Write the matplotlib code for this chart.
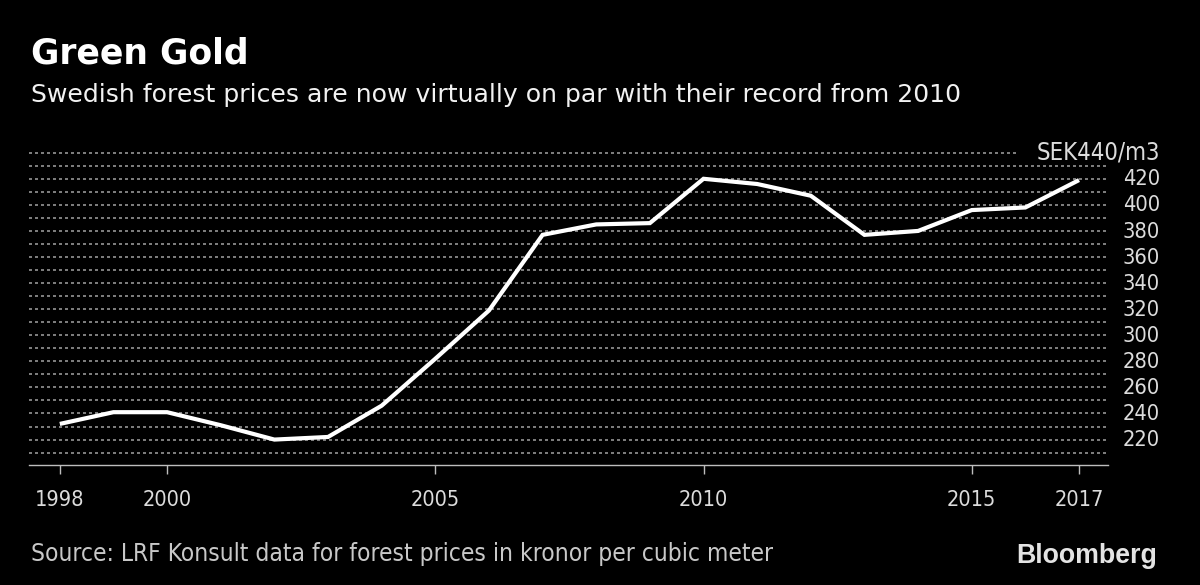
import matplotlib
matplotlib.use("Agg")
import matplotlib.pyplot as plt
from matplotlib import transforms, font_manager

# ---- data ----
years = list(range(1998, 2018))
prices = [232, 241, 241, 231, 220, 222, 246, 282, 319, 377,
          385, 386, 420, 416, 407, 377, 380, 396, 398, 419]
x_ticks = [1998, 2000, 2005, 2010, 2015, 2017]
y_ticks = [220, 240, 260, 280, 300, 320, 340, 360, 380, 400, 420]
grid_levels = list(range(210, 450, 10))
top_label = "SEK440/m3"
title = "Green Gold"
subtitle = "Swedish forest prices are now virtually on par with their record from 2010"
source = "Source: LRF Konsult data for forest prices in kronor per cubic meter"
brand = "Bloomberg"

W, H, DPI = 1200, 585, 100
fig = plt.figure(figsize=(W / DPI, H / DPI), dpi=DPI, facecolor="black")

has_cond = any("Condensed" in f.fname and "DejaVu" in f.fname
               for f in font_manager.fontManager.ttflist)
stretch = "condensed" if has_cond else "normal"
bold_fam = ["Liberation Sans", "DejaVu Sans"]

def px(x, y):
    return x / W, 1 - y / H

# axes in pixel geometry
ax_l, ax_r, ax_t, ax_b = 28.7, 1108, 152.7, 465
ax = fig.add_axes([ax_l / W, 1 - ax_b / H, (ax_r - ax_l) / W, (ax_b - ax_t) / H])
ax.set_facecolor("black")
ax.set_xlim(1997.42, 2017.54)
ax.set_ylim(200.5, 440)

for s in ["top", "left", "right"]:
    ax.spines[s].set_visible(False)
ax.spines["bottom"].set_color("#bdbdbd")
ax.spines["bottom"].set_linewidth(1.0)
ax.set_yticks([])
ax.set_xticks(x_ticks)
ax.set_xticklabels([])
ax.tick_params(axis="x", direction="out", length=6.5, width=1.0, color="#bdbdbd")

# dotted gridlines
xmin, xmax = ax.get_xlim()
x440_end = xmin + (1018 - ax_l) / (ax_r - ax_l) * (xmax - xmin)
for g in grid_levels:
    xe = x440_end if g == 440 else xmax
    ax.plot([xmin, xe], [g, g], color="#7c7c7c", lw=1.44,
            linestyle=(0, (1.5, 1.5)), clip_on=False, zorder=1)

ax.plot(years, prices, color="white", lw=3.0, zorder=3, clip_on=False,
        solid_joinstyle="miter", solid_capstyle="butt")

renderer = fig.canvas.get_renderer()

def fit(t, target_w):
    bb = t.get_window_extent(renderer)
    t.set_fontsize(t.get_fontsize() * target_w / bb.width)
    return t.get_fontsize()

# y tick labels on the right
ylab_tr = transforms.blended_transform_factory(fig.transFigure, ax.transData) + \
    transforms.ScaledTranslation(0, -6.6 / DPI, fig.dpi_scale_trans)
sample = fig.text(0, 0, "420", fontsize=16, family="DejaVu Sans", fontstretch=stretch)
ysize = fit(sample, 37.5)
sample.remove()
for v in y_ticks:
    ax.text(1160 / W, v, str(v), transform=ylab_tr, ha="right", va="baseline",
            fontsize=ysize, family="DejaVu Sans", fontstretch=stretch,
            color="#dcdcdc", clip_on=False)

t = fig.text(*px(1160, 159.5), top_label, ha="right", va="baseline",
             fontsize=ysize, family="DejaVu Sans", fontstretch=stretch, color="#dcdcdc")
fit(t, 123)

# x tick labels
xlab_tr = transforms.blended_transform_factory(ax.transData, fig.transFigure)
sample = fig.text(0, 0, "2000", fontsize=16, family="DejaVu Sans", fontstretch=stretch)
xsize = fit(sample, 50)
sample.remove()
for yv in x_ticks:
    ax.text(yv, 1 - 506 / H, str(yv), transform=xlab_tr, ha="center", va="baseline",
            fontsize=xsize, family="DejaVu Sans", fontstretch=stretch,
            color="#dcdcdc", clip_on=False)

# title / subtitle
t = fig.text(*px(31, 63), title, ha="left", va="baseline", fontsize=26,
             family="DejaVu Sans", weight="bold", color="white")
fit(t, 218)
t = fig.text(*px(31, 102), subtitle, ha="left", va="baseline", fontsize=18,
             family="DejaVu Sans", color="#f2f2f2")
fit(t, 931)

# source and brand
t = fig.text(*px(31, 561), source, ha="left", va="baseline", fontsize=16,
             family="DejaVu Sans", fontstretch=stretch, color="#c8c8c8")
fit(t, 744)
t = fig.text(*px(1157, 563), brand, ha="right", va="baseline", fontsize=19,
             family=bold_fam, weight="bold", color="#e4e4e4")
fit(t, 141)

fig.savefig("out.png", dpi=DPI, facecolor="black")
